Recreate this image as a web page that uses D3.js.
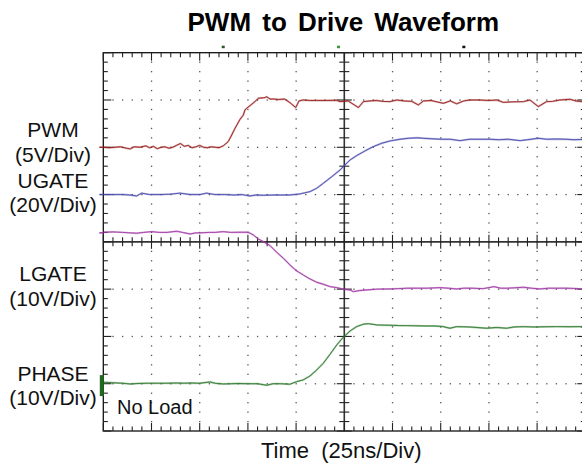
<!DOCTYPE html>
<html><head><meta charset="utf-8">
<script src="https://cdn.jsdelivr.net/npm/d3@7"></script>
<style>
html,body{margin:0;padding:0;background:#fff;}
svg{display:block;font-family:"Liberation Sans",Arial,sans-serif;}
</style></head>
<body>
<svg id="chart" width="582" height="464"></svg>
<script>
// ---- data (time in ns, amplitude in screen divisions, 0 = centre line) ----
const titleText = "PWM to Drive Waveform";
const xAxisLabel = "Time  (25ns/Div)";
const channelLabels = [
  {lines:["PWM","(5V/Div)"], base:[136.5,161.5]},
  {lines:["UGATE","(20V/Div)"], base:[187.5,212]},
  {lines:["LGATE","(10V/Div)"], base:[281,305.5]},
  {lines:["PHASE","(10V/Div)"], base:[380.5,404.5]}
];
const noteText = "No Load";
const timeDomain = [0, 250];
const divDomain = [-4, 4];

const pwmPoints = [[0,2.0],[3,1.99],[6,2.0],[9,2.01],[12,1.98],[14,1.965],[16,2.01],[19,2.0],[22,2.03],[24,1.99],[26,2.02],[28,1.97],[30,2.0],[32,2.01],[34,1.98],[36,2.0],[38,2.04],[40,2.08],[42,2.02],[44,2.04],[46,1.99],[48,2.01],[50,2.04],[52,2.0],[54,1.99],[56,2.01],[58,2.0],[60,1.99],[62.2,2.03],[64.8,2.12],[66.6,2.26],[68.3,2.40],[70.9,2.59],[72.6,2.68],[73.5,2.79],[74.4,2.825],[77.0,2.91],[79.6,3.0],[80.4,3.037],[83.9,3.05],[84.7,3.07],[86.5,3.02],[88.2,3.02],[91,3.01],[94,3.02],[96.8,2.944],[99.8,2.84],[101.5,2.98],[103.7,3.0],[107,2.99],[110.7,2.99],[115,2.99],[121.1,2.994],[122.8,2.965],[127,2.98],[132.3,2.84],[134.9,2.965],[138,2.98],[141.8,2.99],[145,2.97],[148.7,2.965],[152.2,3.0],[156,2.98],[160,2.97],[163.4,2.895],[166,2.98],[170,2.99],[173,2.96],[176.4,2.93],[180,2.98],[183.3,2.92],[187,2.98],[190.2,3.0],[195,3.0],[200,2.99],[204.1,3.0],[207.5,2.95],[212,2.96],[217.9,2.965],[221.3,3.0],[225.6,2.86],[229.9,2.965],[233,2.97],[236.8,3.0],[242,3.015],[245,2.98],[248.3,2.965],[252,2.97]];

const ugatePoints = [[0,1.0],[5,1.0],[10,1.0],[14,0.99],[17.3,0.97],[19.9,1.03],[24,1.0],[30,1.0],[35,1.01],[39.8,1.03],[45,1.0],[50,1.0],[53.6,1.03],[58,1.0],[63,1.0],[68,0.99],[72,1.0],[76.1,0.97],[79,0.99],[83,0.985],[88,0.99],[92,0.99],[96.8,0.992],[102.0,1.013],[107.2,1.062],[110.7,1.133],[114.1,1.239],[118.5,1.379],[122.8,1.520],[125.0,1.611],[128.0,1.732],[131.4,1.823],[135.7,1.922],[140.0,2.013],[144.4,2.085],[148.8,2.134],[153.9,2.17],[158.2,2.19],[163,2.2],[166,2.19],[170,2.18],[175.5,2.17],[180,2.17],[185,2.14],[190,2.17],[196,2.17],[200.6,2.17],[205,2.16],[210,2.17],[216.2,2.14],[220,2.16],[225.6,2.19],[230,2.17],[235,2.175],[240,2.17],[244,2.16],[248.3,2.165],[252,2.165]];

const lgatePoints = [[0,0.203],[5,0.21],[10,0.2],[14,0.19],[17.3,0.182],[21,0.2],[25.1,0.216],[29,0.2],[33,0.2],[38.1,0.224],[41,0.2],[45,0.167],[48,0.19],[50.2,0.19],[55,0.2],[58,0.2],[62.2,0.216],[66,0.2],[70.9,0.203],[75.2,0.203],[77.8,0.146],[80.4,0.061],[83.0,0.004],[86.5,-0.080],[89.9,-0.220],[93.4,-0.347],[96.8,-0.488],[100.3,-0.615],[103.7,-0.700],[107.2,-0.785],[110.7,-0.854],[114.1,-0.897],[117.6,-0.947],[121.1,-0.968],[124.5,-1.002],[128.0,-1.017],[129.7,-1.053],[133,-1.03],[136.6,-1.017],[142,-1.0],[148.7,-0.996],[153,-0.99],[157.4,-0.981],[163,-0.98],[168,-0.98],[174.7,-0.968],[179,-0.98],[183.3,-0.996],[187,-0.98],[191.8,-0.981],[197,-0.99],[202.7,-0.947],[206,-0.98],[209.2,-0.981],[214,-0.97],[217.9,-0.96],[222,-0.98],[226.5,-0.996],[231,-0.98],[235.2,-0.981],[240,-0.98],[244,-0.985],[248.3,-0.996],[252,-0.99]];

const phasePoints = [[0,-2.969],[5,-2.98],[10,-2.99],[13.9,-3.005],[18,-2.995],[23,-2.99],[28,-2.99],[32.9,-2.99],[38,-2.985],[42,-2.99],[45,-2.984],[50,-2.99],[55.3,-2.963],[58,-2.99],[62.2,-3.005],[66,-3.0],[70,-2.995],[75,-3.0],[80,-3.0],[84.8,-3.033],[88,-3.0],[92,-3.0],[96.8,-3.011],[100.3,-2.956],[103.7,-2.920],[107.2,-2.836],[110.7,-2.709],[114.1,-2.567],[117.6,-2.377],[121.1,-2.180],[124.5,-2.017],[128.0,-1.884],[131.4,-1.793],[134.9,-1.742],[137.5,-1.730],[141.8,-1.757],[148.7,-1.764],[153,-1.77],[157.4,-1.772],[162,-1.775],[166,-1.778],[172,-1.78],[176,-1.79],[179.8,-1.827],[183.3,-1.793],[190,-1.8],[198.9,-1.827],[204,-1.81],[209.2,-1.827],[213,-1.8],[217.9,-1.793],[223,-1.8],[230,-1.795],[235.2,-1.793],[242,-1.795],[248.3,-1.793],[252,-1.795]];

const traces = [
  {name:"PWM", points:pwmPoints, color:"#9a2222", ground:2.0},
  {name:"UGATE", points:ugatePoints, color:"#4c4cb0", ground:1.0},
  {name:"LGATE", points:lgatePoints, color:"#a03aa6", ground:0.19},
  {name:"PHASE", points:phasePoints, color:"#2f7a2f", ground:-3.04}
];
const triggerMarks = [{t:62.2,c:"#2a5a2a"},{t:122,c:"#3a9a3a"},{t:187,c:"#111"}];

// ---- layout ----
const svg = d3.select("#chart");
const x = d3.scaleLinear().domain(timeDomain).range([103.3, 585.3]);
const y = d3.scaleLinear().domain(divDomain).range([431, 52.7]);

const minorT = d3.range(0, 250.01, 5);
const majorT = d3.range(25, 250, 25);
const minorV = d3.range(-4, 4.001, 0.2).map(v => +v.toFixed(2));
const majorV = [-3,-2,-1,1,2,3];
const isMajorT = t => Math.abs(t/25 - Math.round(t/25)) < 1e-6;
const isMajorV = v => Math.abs(v - Math.round(v)) < 1e-6;

const g = svg.append("g");

// dotted grid
const dots = g.append("g").attr("fill", "#555");
majorT.filter(t => t !== 125).forEach(t => {
  minorV.forEach(v => {
    if (v <= -4 || v >= 4) return;
    dots.append("rect").attr("x", x(t)-0.6).attr("y", y(v)-0.6).attr("width", 1.3).attr("height", 1.3);
  });
});
majorV.forEach(v => {
  minorT.forEach(t => {
    if (t <= 0 || t >= 250 || isMajorT(t)) return;
    dots.append("rect").attr("x", x(t)-0.6).attr("y", y(v)-0.6).attr("width", 1.3).attr("height", 1.3);
  });
});

// frame
const frame = g.append("g").attr("stroke", "#111").attr("fill", "none");
frame.append("rect").attr("x", x(0)).attr("y", y(4)).attr("width", x(250)-x(0)).attr("height", y(-4)-y(4)).attr("stroke-width", 1.3);
// centre axes
frame.append("line").attr("x1", x(0)).attr("x2", x(250)).attr("y1", y(0)).attr("y2", y(0)).attr("stroke", "#333").attr("stroke-width", 1.6);
frame.append("line").attr("x1", x(125)).attr("x2", x(125)).attr("y1", y(4)).attr("y2", y(-4)).attr("stroke", "#333").attr("stroke-width", 1.6);

const ticks = g.append("g").attr("stroke", "#222").attr("stroke-width", 1.1);
minorT.forEach(t => {
  const L = isMajorT(t) ? 8 : 4.5;
  ticks.append("line").attr("x1", x(t)).attr("x2", x(t)).attr("y1", y(4)).attr("y2", y(4)+L);
  ticks.append("line").attr("x1", x(t)).attr("x2", x(t)).attr("y1", y(-4)).attr("y2", y(-4)-L);
  const C = isMajorT(t) ? 7 : 4.5;
  ticks.append("line").attr("x1", x(t)).attr("x2", x(t)).attr("y1", y(0)-C).attr("y2", y(0)+C);
});
minorV.forEach(v => {
  const L = isMajorV(v) ? 8 : 4.5;
  ticks.append("line").attr("x1", x(0)).attr("x2", x(0)+L).attr("y1", y(v)).attr("y2", y(v));
  ticks.append("line").attr("x1", x(250)).attr("x2", x(250)-L).attr("y1", y(v)).attr("y2", y(v));
  const C = isMajorV(v) ? 7.5 : 5;
  ticks.append("line").attr("x1", x(125)-C).attr("x2", x(125)+C).attr("y1", y(v)).attr("y2", y(v));
});

// traces
svg.append("clipPath").attr("id","plotclip").append("rect")
  .attr("x", x(0)).attr("y", y(4)).attr("width", x(250)-x(0)).attr("height", y(-4)-y(4));
const line = d3.line().x(d => x(d[0])).y(d => y(d[1]));
const tg = svg.append("g").attr("clip-path", "url(#plotclip)");
traces.forEach(tr => {
  tg.append("path").datum(tr.points).attr("d", line).attr("fill","none")
    .attr("stroke", tr.color).attr("stroke-opacity", 0.4).attr("stroke-width", 1.9).attr("stroke-linejoin","round");
  tg.append("path").datum(tr.points).attr("d", line).attr("fill","none")
    .attr("stroke", tr.color).attr("stroke-width", 0.9).attr("stroke-linejoin","round");
});

// ground markers on the left edge
traces.forEach(tr => {
  if (tr.name === "PHASE") {
    svg.append("rect").attr("x", x(0)-3.5).attr("y", y(tr.ground)-10.5).attr("width", 4).attr("height", 21).attr("fill", "#1f6a1f");
  } else {
    svg.append("line").attr("x1", x(0)-4).attr("x2", x(0)).attr("y1", y(tr.ground)).attr("y2", y(tr.ground))
      .attr("stroke", tr.color).attr("stroke-width", 1.5);
  }
});
// trigger marks above the frame
triggerMarks.forEach(m => {
  svg.append("rect").attr("x", x(m.t)-1.5).attr("y", y(4)-7).attr("width", 3).attr("height", 2.5).attr("fill", m.c);
});

// texts
svg.append("text").attr("x", 343.3).attr("y", 31).attr("text-anchor","middle")
  .attr("font-size", 26).attr("font-weight","bold").attr("word-spacing", 4).attr("fill","#000").text(titleText);
channelLabels.forEach(cl => {
  cl.lines.forEach((s, i) => {
    svg.append("text").attr("x", 53).attr("y", cl.base[i]).attr("text-anchor","middle")
      .attr("font-size", 21).attr("fill","#111").text(s);
  });
});
svg.append("text").attr("x", 117).attr("y", 414.3).attr("font-size", 20).attr("fill","#111").text(noteText);
svg.append("text").attr("x", 261).attr("y", 457.5).attr("font-size", 22).attr("fill","#111")
  .style("white-space","pre").text(xAxisLabel);
</script>
</body></html>
